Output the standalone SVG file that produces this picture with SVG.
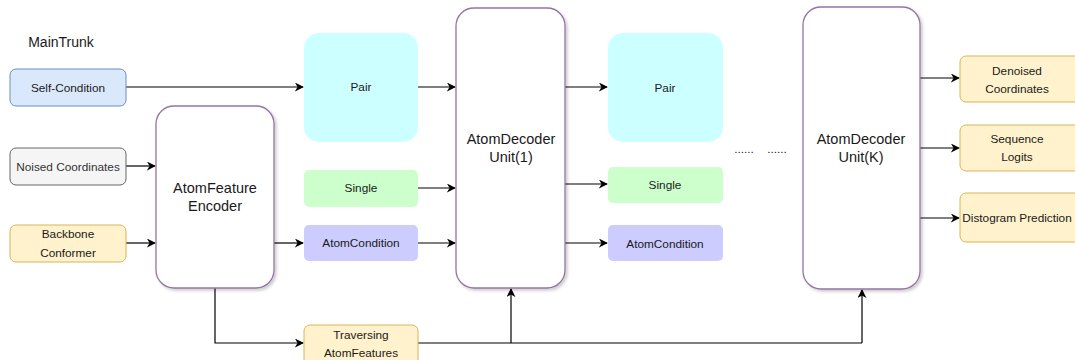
<svg xmlns="http://www.w3.org/2000/svg" width="1075" height="360" viewBox="0 0 1075 360">
<style>
text{font-family:"Liberation Sans",Arial,Helvetica,sans-serif;fill:#1a1a1a;text-anchor:middle}
.s{font-size:11.8px}
.b{font-size:14.5px}
.big{fill:#ffffff;stroke:#9673a6;stroke-width:1.3;filter:url(#sh)}
.yel{fill:#fff2cc;stroke:#d6b656;stroke-width:1}
.c{fill:none;stroke:#000;stroke-width:1.2;marker-end:url(#ah)}
.l{fill:none;stroke:#000;stroke-width:1.2}
</style>
<defs>
<marker id="ah" viewBox="0 0 10 10" refX="9" refY="5" markerWidth="9" markerHeight="9" markerUnits="userSpaceOnUse" orient="auto">
<path d="M0,0 L10,5 L0,10 L3,5 z" fill="#000"/>
</marker>
<filter id="sh" x="-10%" y="-10%" width="130%" height="130%">
<feDropShadow dx="2" dy="2" stdDeviation="1.5" flood-color="#000" flood-opacity="0.2"/>
</filter>
</defs>
<rect width="1075" height="360" fill="#ffffff"/>
<text x="61" y="47" style="font-size:14px">MainTrunk</text>

<g id="connectors">
<path class="c" d="M126,87 H303"/>
<path class="c" d="M126,166 H155"/>
<path class="c" d="M126,243 H155"/>
<path class="c" d="M274,243 H303"/>
<path class="c" d="M215,288 V343 H303"/>
<path class="c" d="M418,87 H455"/>
<path class="c" d="M418,188 H455"/>
<path class="c" d="M418,243 H455"/>
<path class="l" d="M418,343 H862"/>
<path class="c" d="M511,343 V289"/>
<path class="c" d="M862,343 V290"/>
<path class="c" d="M565,87 H607"/>
<path class="c" d="M565,184 H607"/>
<path class="c" d="M565,243 H607"/>
<path class="c" d="M920,78 H959"/>
<path class="c" d="M920,148 H959"/>
<path class="c" d="M920,218 H959"/>
</g>

<g id="self-condition">
<rect x="10" y="69" width="116" height="37" rx="6" fill="#dae8fc" stroke="#6c8ebf"/>
<text class="s" x="68" y="92">Self-Condition</text>
</g>
<g id="noised-coordinates">
<rect x="10" y="148" width="116" height="37" rx="6" fill="#f5f5f5" stroke="#666666"/>
<text class="s" x="68" y="171" style="fill:#333">Noised Coordinates</text>
</g>
<g id="backbone-conformer">
<rect class="yel" x="10" y="225" width="116" height="37" rx="6"/>
<text class="s" x="68" y="238">Backbone</text>
<text class="s" x="68" y="257">Conformer</text>
</g>
<g id="atomfeature-encoder">
<rect class="big" x="156" y="106" width="118" height="182" rx="18"/>
<text class="b" x="215" y="193">AtomFeature</text>
<text class="b" x="215" y="211">Encoder</text>
</g>
<g id="pair-1">
<rect x="304" y="33" width="114" height="109" rx="15" fill="#ccffff"/>
<text class="s" x="361" y="91">Pair</text>
</g>
<g id="single-1">
<rect x="304" y="170" width="114" height="37" rx="5" fill="#ccffcc"/>
<text class="s" x="361" y="192">Single</text>
</g>
<g id="atomcondition-1">
<rect x="304" y="225" width="114" height="36" rx="5" fill="#ccccff"/>
<text class="s" x="361" y="247">AtomCondition</text>
</g>
<g id="traversing-atomfeatures">
<rect class="yel" x="304" y="325" width="114" height="40" rx="6"/>
<text class="s" x="361" y="339">Traversing</text>
<text class="s" x="361" y="357">AtomFeatures</text>
</g>
<g id="atomdecoder-1">
<rect class="big" x="456" y="8" width="109" height="280" rx="18"/>
<text class="b" x="511" y="144">AtomDecoder</text>
<text class="b" x="511" y="162">Unit(1)</text>
</g>
<g id="pair-2">
<rect x="608" y="33" width="115" height="109" rx="15" fill="#ccffff"/>
<text class="s" x="665" y="92">Pair</text>
</g>
<g id="single-2">
<rect x="608" y="167" width="115" height="36" rx="5" fill="#ccffcc"/>
<text class="s" x="665" y="189">Single</text>
</g>
<g id="atomcondition-2">
<rect x="608" y="225" width="115" height="36" rx="5" fill="#ccccff"/>
<text class="s" x="665" y="248">AtomCondition</text>
</g>
<g id="dots">
<text class="s" x="744" y="153">......</text>
<text class="s" x="777" y="153">......</text>
</g>
<g id="atomdecoder-k">
<rect class="big" x="803" y="7" width="117" height="282" rx="18"/>
<text class="b" x="861" y="144">AtomDecoder</text>
<text class="b" x="861" y="162">Unit(K)</text>
</g>
<g id="denoised-coordinates">
<rect class="yel" x="960" y="56" width="122" height="46" rx="6"/>
<text class="s" x="1017" y="75">Denoised</text>
<text class="s" x="1017" y="93">Coordinates</text>
</g>
<g id="sequence-logits">
<rect class="yel" x="960" y="125" width="122" height="46" rx="6"/>
<text class="s" x="1017" y="143">Sequence</text>
<text class="s" x="1017" y="161">Logits</text>
</g>
<g id="distogram-prediction">
<rect class="yel" x="960" y="193" width="122" height="49" rx="6"/>
<text class="s" x="1017" y="222">Distogram Prediction</text>
</g>
</svg>
